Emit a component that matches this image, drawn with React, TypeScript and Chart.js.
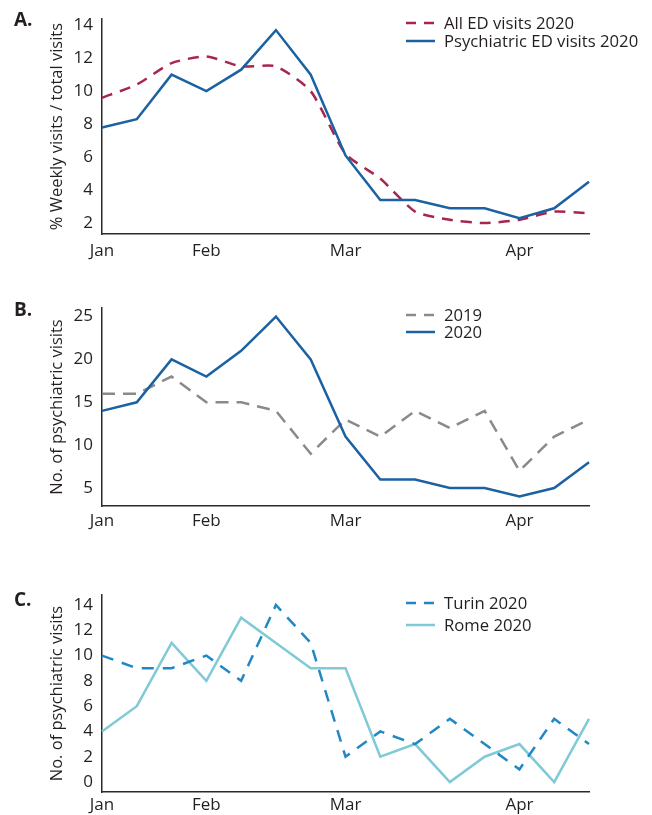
import React, { useEffect, useRef } from "react";
import { Chart, registerables } from "chart.js";

Chart.register(...registerables);

// ---- data ----
const weekLabels = ["Jan", "", "", "Feb", "", "", "", "Mar", "", "", "", "", "Apr", "", ""];

const allEdVisits2020 = [9.6, 10.4, 11.7, 12.1, 11.5, 11.5, 10.0, 6.2, 4.7, 2.7, 2.2, 2.0, 2.2, 2.7, 2.6];
const psychEdVisits2020 = [7.8, 8.3, 11.0, 10.0, 11.3, 13.7, 11.0, 6.1, 3.4, 3.4, 2.9, 2.9, 2.3, 2.9, 4.5];

const psychVisits2019 = [16, 16, 18, 15, 15, 14, 9, 13, 11, 14, 12, 14, 7, 11, 13];
const psychVisits2020 = [14, 15, 20, 18, 21, 25, 20, 11, 6, 6, 5, 5, 4, 5, 8];

const turin2020 = [10, 9, 9, 10, 8, 14, 11, 2, 4, 3, 5, 3, 1, 5, 3];
const rome2020 = [4, 6, 11, 8, 13, 11, 9, 9, 2, 3, 0, 2, 3, 0, 5];

const yTicksA = [2, 4, 6, 8, 10, 12, 14];
const yTicksB = [5, 10, 15, 20, 25];
const yTicksC = [0, 2, 4, 6, 8, 10, 12, 14];

// ---- style ----
const FONT = '"Open Sans", "Noto Sans", sans-serif';
const TEXT = "#231f20";
const AXIS = "#2b2b2b";
const BLUE = "#1c62a3";
const RED = "#a8254f";
const GRAY = "#8a8a8a";
const TURIN = "#2188c6";
const ROME = "#7fcad6";

type Series = { label: string; data: number[]; color: string; dash?: number[]; tension?: number };

type PanelSpec = {
  height: number;
  letter: string;
  letterY: number;
  top: number;
  bottom: number;
  xPad: number;
  yMin: number;
  yMax: number;
  yTicks: number[];
  yTitle: string;
  series: Series[]; // drawing order: first on top
  legend: { series: Series; y: number }[];
};

const sAll: Series = { label: "All ED visits 2020", data: allEdVisits2020, color: RED, dash: [11, 8], tension: 0.2 };
const sPsy: Series = { label: "Psychiatric ED visits 2020", data: psychEdVisits2020, color: BLUE };
const s2019: Series = { label: "2019", data: psychVisits2019, color: GRAY, dash: [13, 8] };
const s2020: Series = { label: "2020", data: psychVisits2020, color: BLUE };
const sTurin: Series = { label: "Turin 2020", data: turin2020, color: TURIN, dash: [12, 9] };
const sRome: Series = { label: "Rome 2020", data: rome2020, color: ROME };

const panels: PanelSpec[] = [
  {
    height: 270, letter: "A.", letterY: 21, top: 17, bottom: 234, xPad: 7,
    yMin: 1.34, yMax: 14.36, yTicks: yTicksA, yTitle: "% Weekly visits / total visits",
    series: [sPsy, sAll],
    legend: [{ series: sAll, y: 23 }, { series: sPsy, y: 41 }],
  },
  {
    height: 270, letter: "B.", letterY: 41, top: 38, bottom: 236, xPad: 5,
    yMin: 2.9, yMax: 26, yTicks: yTicksB, yTitle: "No. of psychiatric visits",
    series: [s2020, s2019],
    legend: [{ series: s2019, y: 45 }, { series: s2020, y: 62 }],
  },
  {
    height: 275, letter: "C.", letterY: 61, top: 55, bottom: 252, xPad: 3,
    yMin: -0.79, yMax: 14.79, yTicks: yTicksC, yTitle: "No. of psychiatric visits",
    series: [sTurin, sRome],
    legend: [{ series: sTurin, y: 63 }, { series: sRome, y: 85 }],
  },
];

function Panel({ spec }: { spec: PanelSpec }) {
  const ref = useRef<HTMLCanvasElement | null>(null);
  useEffect(() => {
    if (!ref.current) return;
    const decor = {
      id: "decor",
      afterDraw(chart: any) {
        const ctx = chart.ctx as CanvasRenderingContext2D;
        ctx.save();
        ctx.fillStyle = TEXT;
        ctx.textBaseline = "middle";
        ctx.textAlign = "left";
        ctx.font = `bold 19px ${FONT}`;
        ctx.fillText(spec.letter, 14, spec.letterY);
        spec.legend.forEach((it) => {
          ctx.strokeStyle = it.series.color;
          ctx.lineWidth = 2.5;
          ctx.setLineDash(it.series.dash ? [10, 8] : []);
          ctx.beginPath();
          ctx.moveTo(406, it.y);
          ctx.lineTo(435, it.y);
          ctx.stroke();
          ctx.setLineDash([]);
          ctx.font = `16.7px ${FONT}`;
          ctx.fillStyle = TEXT;
          ctx.fillText(it.series.label, 444, it.y + 1);
        });
        ctx.restore();
      },
    };
    const chart = new Chart(ref.current, {
      type: "line",
      data: {
        labels: weekLabels,
        datasets: spec.series.map((s) => ({
          label: s.label,
          data: s.data,
          borderColor: s.color,
          backgroundColor: s.color,
          borderWidth: 2.5,
          borderDash: s.dash || [],
          tension: s.tension || 0,
          pointRadius: 0,
          fill: false,
        })),
      },
      options: {
        responsive: false,
        animation: false,
        layout: { padding: { top: spec.top, right: 63, left: 0, bottom: 0 } },
        plugins: { legend: { display: false }, tooltip: { enabled: false }, title: { display: false } },
        scales: {
          x: {
            type: "category",
            offset: false,
            grid: { display: false, drawTicks: false },
            border: { display: true, color: AXIS, width: 1.5 },
            ticks: {
              autoSkip: false,
              maxRotation: 0,
              padding: spec.xPad,
              color: TEXT,
              font: { family: FONT, size: 17 },
            },
            afterFit(scale: any) {
              scale.height = spec.height - spec.bottom;
            },
          },
          y: {
            type: "linear",
            min: spec.yMin,
            max: spec.yMax,
            grid: { display: false, drawTicks: false },
            border: { display: true, color: AXIS, width: 1.5 },
            afterBuildTicks(scale: any) {
              scale.ticks = spec.yTicks.map((v) => ({ value: v }));
            },
            ticks: {
              padding: 9,
              color: TEXT,
              font: { family: FONT, size: 17 },
            },
            title: {
              display: true,
              text: spec.yTitle,
              color: TEXT,
              font: { family: FONT, size: 16.5 },
              padding: { top: 47, bottom: 0 },
            },
            afterFit(scale: any) {
              scale.width = 102;
            },
          },
        },
      },
      plugins: [decor],
    });
    return () => chart.destroy();
  }, [spec]);
  return <canvas ref={ref} width={652} height={spec.height} style={{ display: "block" }} />;
}

export default function App() {
  return (
    <div style={{ position: "absolute", left: 0, top: 0, width: 652, height: 815, background: "#fff" }}>
      {panels.map((p) => (
        <Panel key={p.letter} spec={p} />
      ))}
    </div>
  );
}
